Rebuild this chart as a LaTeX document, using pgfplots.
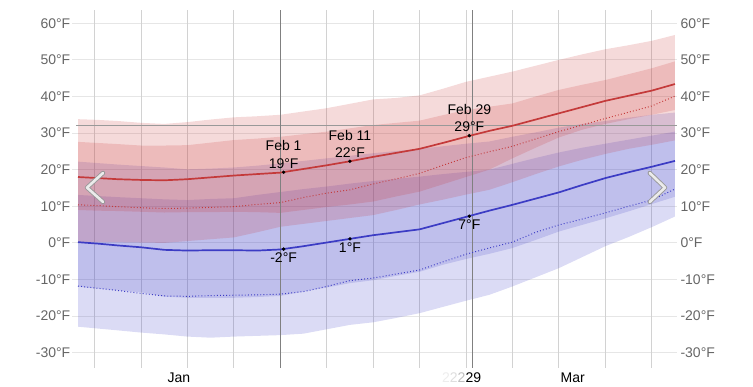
\documentclass[border=0pt]{standalone}
\usepackage{fontspec}
\setmainfont{Liberation Sans}
\usepackage{pgfplots}
\pgfplotsset{compat=1.18}
\usepackage{pgfplotstable}
\usepgfplotslibrary{fillbetween}
\definecolor{redc}{RGB}{200,50,50}
\definecolor{bluec}{RGB}{66,66,200}
\definecolor{redl}{RGB}{196,58,58}
\definecolor{bluel}{RGB}{60,60,196}
\definecolor{tickgray}{HTML}{666666}
\definecolor{hgrid}{HTML}{E6E6E6}
\definecolor{vgrid}{HTML}{D2D2D2}

\pgfplotstableread{
d    R90  R75  Rm   R25  R10  Rd   B90  B75  Bm   B25   B10   Bd
0    33.8 27.6 18.0 9.0  0.3  10.4 22.2 13.1 0.2  -12.0 -22.9 -11.8
3    33.6 27.3 17.7 8.8  0.2  10.2 21.8 12.8 -0.2 -12.5 -23.4 -12.4
6    33.3 27.0 17.4 8.7  0.2  9.9  21.4 12.5 -0.7 -13.0 -23.9 -13.0
9.5  32.8 26.6 17.2 8.5  0.1  9.6  21.0 12.2 -1.2 -13.5 -24.5 -13.8
13   32.5 26.6 17.1 8.3  0.0  9.4  20.6 11.9 -1.9 -14.7 -25.0 -14.5
16.5 33.0 26.7 17.4 8.4  0.5  9.5  20.1 11.7 -2.1 -15.0 -25.6 -14.6
20   33.7 27.4 17.9 8.4  1.0  9.7  20.3 12.0 -2.0 -15.0 -25.9 -14.4
23.5 34.3 28.1 18.4 8.5  1.5  9.9  20.6 12.2 -2.0 -15.0 -25.6 -14.3
27   34.6 28.5 18.8 8.4  2.9  10.5 21.1 13.1 -2.1 -14.8 -25.4 -14.2
30.5 35.0 29.0 19.2 8.2  4.4  11.0 21.7 13.9 -1.8 -14.5 -25.2 -14.0
34   35.9 29.7 20.2 9.0  5.2  12.4 22.4 14.7 -0.9 -13.3 -24.8 -13.3
37.5 36.8 30.4 21.2 9.8  6.0  13.6 23.1 15.4 0.1  -12.2 -23.6 -11.9
41   38.0 31.3 22.3 10.5 6.8  14.5 23.8 16.2 1.1  -11.0 -22.4 -10.3
44.5 39.2 32.2 23.5 11.3 7.6  16.1 24.5 16.9 2.1  -10.2 -21.7 -9.6
48   39.6 32.8 24.6 12.7 9.0  17.5 25.1 17.5 2.9  -9.0  -20.5 -8.5
51.5 40.3 33.4 25.7 14.0 10.5 19.0 25.7 18.1 3.7  -7.9  -19.2 -7.4
55   42.1 34.9 27.3 16.0 11.8 21.2 26.4 18.8 5.4  -6.0  -17.5 -5.2
58.5 44.0 36.3 29.0 18.0 13.2 23.3 27.1 19.4 7.1  -4.4  -15.8 -3.1
62   45.4 37.2 30.6 20.0 14.5 24.9 27.7 20.0 8.8  -3.0  -14.2 -1.4
65.5 46.8 38.1 32.0 23.1 16.6 26.4 29.0 21.6 10.4 -1.4  -11.9 0.2
69   48.4 40.0 33.7 26.0 18.8 28.4 30.2 23.2 12.1 0.8   -9.4  2.9
72.5 50.0 41.8 35.4 28.8 20.9 30.4 31.5 24.7 13.8 3.1   -6.9  4.9
76   51.5 43.2 37.1 30.9 22.7 32.2 32.5 26.0 15.8 4.9   -3.9  6.5
79.5 52.9 44.5 38.8 32.5 24.3 34.0 33.3 27.1 17.7 6.7   -0.9  8.2
83   54.0 46.1 40.2 33.8 25.7 35.7 34.2 28.2 19.3 8.6   1.6   10.0
86.5 55.2 47.7 41.6 35.0 26.8 37.4 35.0 29.3 20.8 10.6  4.3   11.7
90   56.8 49.6 43.4 36.3 28.0 40.1 35.6 30.4 22.4 12.6  7.2   14.7
}\data

\pgfplotsset{
  common/.style={
    at={(0,0)}, anchor=south west,
    scale only axis, width=605pt, height=358pt,
    xmin=-0.905, xmax=90.31, ymin=-34.18, ymax=63.63,
    axis line style={draw=none},
    tick style={draw=none},
    ytick={-30,-20,-10,0,10,20,30,40,50,60},
    yticklabels={-30°F,-20°F,-10°F,0°F,10°F,20°F,30°F,40°F,50°F,60°F},
    yticklabel style={font=\fontsize{14}{16}\selectfont, text=tickgray},
  }
}

\begin{document}
\begin{tikzpicture}
\begin{axis}[common,
  yticklabel style={inner sep=0pt, xshift=-1.5pt},
  ymajorgrids=true,
  major grid style={hgrid, line width=1pt},
  xtick={15.2,59.6,74.6},
  xticklabels={Jan,{\llap{{\color{black!7}2}{\color{black!13}2}{\color{black!25}2}}29},Mar},
  xticklabel style={font=\fontsize{14}{16}\selectfont, text=black, yshift=-1pt},
  extra x ticks={2.5,9.5,16.5,23.5,37.5,44.5,51.5,58.5,65.5,72.5,79.5,86.5},
  extra x tick labels={},
  extra x tick style={xmajorgrids=true, ymajorgrids=false, major grid style={vgrid, line width=0.8pt}},
]
% freezing line
\draw[black!40, line width=0.8pt] (axis cs:-0.3,32) -- (axis cs:90.31,32);

% band boundaries
\addplot[draw=none, name path=R90] table[x=d,y=R90]{\data};
\addplot[draw=none, name path=R75] table[x=d,y=R75]{\data};
\addplot[draw=none, name path=R25] table[x=d,y=R25]{\data};
\addplot[draw=none, name path=R10] table[x=d,y=R10]{\data};
\addplot[draw=none, name path=B90] table[x=d,y=B90]{\data};
\addplot[draw=none, name path=B75] table[x=d,y=B75]{\data};
\addplot[draw=none, name path=B25] table[x=d,y=B25]{\data};
\addplot[draw=none, name path=B10] table[x=d,y=B10]{\data};

\addplot[fill=bluec, fill opacity=0.19, draw=none] fill between[of=B90 and B10];
\addplot[fill=bluec, fill opacity=0.19, draw=none] fill between[of=B75 and B25];
\addplot[fill=redc, fill opacity=0.18, draw=none] fill between[of=R90 and R10];
\addplot[fill=redc, fill opacity=0.18, draw=none] fill between[of=R75 and R25];

% marker lines
\draw[black!50, line width=0.8pt] (axis cs:30.5,-34.18) -- (axis cs:30.5,63.63);
\draw[black!50, line width=0.8pt] (axis cs:59.45,-34.18) -- (axis cs:59.45,63.63);

% dotted perceived
\addplot[redl, line width=1pt, dash pattern=on 0.9pt off 2.2pt] table[x=d,y=Rd]{\data};
\addplot[bluel, line width=1pt, dash pattern=on 0.9pt off 2.2pt] table[x=d,y=Bd]{\data};
% mean lines
\addplot[redl, line width=1.7pt] table[x=d,y=Rm]{\data};
\addplot[bluel, line width=1.7pt] table[x=d,y=Bm]{\data};

% chevrons
\draw[black!40, line width=4.4pt, line cap=round, line join=round] (axis cs:3.77,19.1) -- (axis cs:1.36,15.1) -- (axis cs:3.77,11.2);
\draw[black!8, line width=2.6pt, line cap=round, line join=round] (axis cs:3.77,19.1) -- (axis cs:1.36,15.1) -- (axis cs:3.77,11.2);
\draw[black!40, line width=4.4pt, line cap=round, line join=round] (axis cs:86.2,19.1) -- (axis cs:88.5,15.1) -- (axis cs:86.2,11.2);
\draw[black!8, line width=2.6pt, line cap=round, line join=round] (axis cs:86.2,19.1) -- (axis cs:88.5,15.1) -- (axis cs:86.2,11.2);

% highlighted points
\addplot[only marks, mark=*, mark size=1.5pt, black,
  point meta=explicit symbolic, nodes near coords,
  every node near coord/.append style={anchor=south, align=center, font=\fontsize{14}{17.5}\selectfont, inner sep=1pt, yshift=2.5pt, text=black}]
  coordinates {(31,19.3) [{Feb 1\\19°F}] (41,22.3) [{Feb 11\\22°F}] (59,29.3) [{Feb 29\\29°F}]};
\addplot[only marks, mark=*, mark size=1.5pt, black,
  point meta=explicit symbolic, nodes near coords,
  every node near coord/.append style={anchor=north, font=\fontsize{14}{16}\selectfont, inner sep=1pt, yshift=-2.5pt, text=black}]
  coordinates {(31,-1.7) [-2°F] (41,1.1) [1°F] (59,7.3) [7°F]};
\end{axis}

\begin{axis}[common,
  yticklabel pos=right,
  xtick=\empty,
]
\addplot[draw=none] coordinates {(0,0) (90,0)};
\end{axis}
\pgfresetboundingbox
\path[use as bounding box] (-72pt,-19pt) rectangle (681pt,368pt);
\end{tikzpicture}
\end{document}
